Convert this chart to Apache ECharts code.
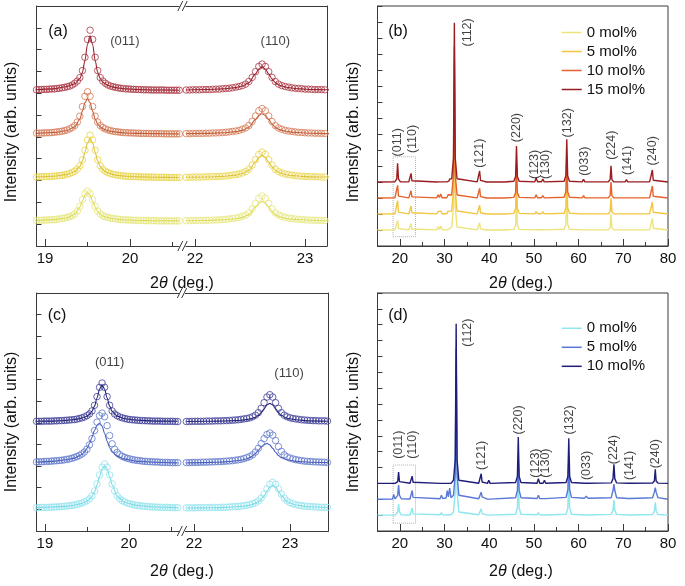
<!DOCTYPE html>
<html><head><meta charset="utf-8">
<script src="https://cdn.jsdelivr.net/npm/echarts@6/dist/echarts.min.js"></script>
<style>html,body{margin:0;padding:0;background:#fff}#c{width:685px;height:586px}</style>
</head><body><div id="c"></div>
<script>
// ---------- data: 2theta grids ----------
const xLeft = [18.90,18.93,18.96,18.99,19.02,19.05,19.08,19.11,19.14,19.17,19.20,19.23,19.26,19.29,19.32,19.35,19.38,19.41,19.44,19.47,19.50,19.53,19.56,19.59,19.62,19.65,19.68,19.71,19.74,19.77,19.80,19.83,19.86,19.89,19.92,19.95,19.98,20.01,20.04,20.07,20.10,20.13,20.16,20.19,20.22,20.25,20.28,20.31,20.34,20.37,20.40,20.43,20.46,20.49,20.52,20.55,20.58];
const xRight = [21.92,21.95,21.98,22.01,22.04,22.07,22.10,22.13,22.16,22.19,22.22,22.25,22.28,22.31,22.34,22.37,22.40,22.43,22.46,22.49,22.52,22.55,22.58,22.61,22.64,22.67,22.70,22.73,22.76,22.79,22.82,22.85,22.88,22.91,22.94,22.97,23.00,23.03,23.06,23.09,23.12,23.15,23.18,23.21,23.24,23.27,23.30,23.33,23.36,23.39];
// ---------- panel (a): measured points (stacked intensities) ----------
const a15L = [7.16,7.17,7.17,7.18,7.18,7.19,7.20,7.20,7.22,7.23,7.25,7.27,7.30,7.33,7.38,7.46,7.56,7.72,8.04,8.65,9.47,9.89,9.47,8.65,8.04,7.72,7.56,7.46,7.38,7.33,7.30,7.27,7.25,7.23,7.22,7.20,7.20,7.19,7.18,7.18,7.17,7.17,7.16,7.16,7.16,7.15,7.15,7.15,7.15,7.15,7.15,7.14,7.14,7.14,7.14,7.14,7.14];
const a10L = [5.17,5.17,5.18,5.18,5.19,5.19,5.20,5.21,5.23,5.24,5.26,5.29,5.32,5.37,5.43,5.52,5.68,5.95,6.39,6.86,7.07,6.86,6.39,5.95,5.68,5.52,5.43,5.37,5.32,5.29,5.26,5.24,5.23,5.21,5.20,5.19,5.19,5.18,5.18,5.17,5.17,5.16,5.16,5.16,5.16,5.15,5.15,5.15,5.15,5.15,5.14,5.14,5.14,5.14,5.14,5.14,5.14];
const a5L = [3.16,3.17,3.17,3.18,3.18,3.19,3.19,3.20,3.21,3.23,3.24,3.26,3.29,3.32,3.37,3.43,3.52,3.68,3.95,4.39,4.86,5.08,4.86,4.39,3.95,3.68,3.52,3.43,3.37,3.32,3.29,3.26,3.24,3.23,3.21,3.20,3.19,3.19,3.18,3.18,3.17,3.17,3.16,3.16,3.16,3.16,3.15,3.15,3.15,3.15,3.15,3.14,3.14,3.14,3.14,3.14,3.14];
const a0L = [1.17,1.18,1.18,1.19,1.19,1.20,1.20,1.21,1.23,1.24,1.26,1.28,1.31,1.34,1.39,1.47,1.60,1.82,2.12,2.40,2.52,2.40,2.12,1.82,1.60,1.47,1.39,1.34,1.31,1.28,1.26,1.24,1.23,1.21,1.20,1.20,1.19,1.19,1.18,1.18,1.17,1.17,1.17,1.16,1.16,1.16,1.16,1.16,1.15,1.15,1.15,1.15,1.15,1.15,1.15,1.15,1.15];
const a15R = [7.15,7.15,7.16,7.16,7.16,7.17,7.17,7.17,7.18,7.19,7.19,7.21,7.22,7.23,7.25,7.28,7.31,7.35,7.42,7.54,7.73,7.99,8.23,8.34,8.23,7.99,7.73,7.54,7.42,7.35,7.31,7.28,7.25,7.23,7.22,7.21,7.19,7.19,7.18,7.17,7.17,7.17,7.16,7.16,7.16,7.15,7.15,7.15,7.15,7.15];
const a10R = [5.15,5.15,5.16,5.16,5.16,5.16,5.17,5.17,5.18,5.18,5.19,5.20,5.21,5.23,5.25,5.27,5.30,5.35,5.41,5.52,5.71,5.96,6.20,6.30,6.20,5.96,5.71,5.52,5.41,5.35,5.30,5.27,5.25,5.23,5.21,5.20,5.19,5.18,5.18,5.17,5.17,5.16,5.16,5.16,5.16,5.15,5.15,5.15,5.15,5.15];
const a5R = [3.15,3.15,3.16,3.16,3.16,3.16,3.17,3.17,3.18,3.18,3.19,3.20,3.21,3.23,3.25,3.27,3.30,3.35,3.41,3.52,3.71,3.96,4.20,4.30,4.20,3.96,3.71,3.52,3.41,3.35,3.30,3.27,3.25,3.23,3.21,3.20,3.19,3.18,3.18,3.17,3.17,3.16,3.16,3.16,3.16,3.15,3.15,3.15,3.15,3.15];
const a0R = [1.16,1.16,1.17,1.17,1.17,1.17,1.18,1.18,1.19,1.19,1.20,1.21,1.22,1.24,1.26,1.28,1.31,1.36,1.42,1.52,1.70,1.95,2.19,2.29,2.19,1.95,1.70,1.52,1.42,1.36,1.31,1.28,1.26,1.24,1.22,1.21,1.20,1.19,1.19,1.18,1.18,1.17,1.17,1.17,1.17,1.16,1.16,1.16,1.16,1.16];
// ---------- panel (c): measured points ----------
const c10L = [5.07,5.07,5.07,5.08,5.08,5.08,5.08,5.09,5.09,5.10,5.10,5.11,5.12,5.13,5.14,5.15,5.17,5.20,5.23,5.27,5.33,5.41,5.55,5.81,6.21,6.64,6.84,6.64,6.21,5.81,5.55,5.41,5.33,5.27,5.23,5.20,5.17,5.15,5.14,5.13,5.12,5.11,5.10,5.10,5.09,5.09,5.08,5.08,5.08,5.08,5.07,5.07,5.07,5.07,5.07,5.06,5.06];
const c5L = [3.19,3.20,3.20,3.21,3.22,3.22,3.23,3.24,3.25,3.26,3.27,3.29,3.31,3.33,3.36,3.40,3.44,3.49,3.56,3.65,3.78,3.98,4.27,4.64,5.03,5.33,5.45,5.28,4.87,4.41,4.03,3.78,3.63,3.53,3.45,3.40,3.36,3.33,3.30,3.28,3.26,3.25,3.23,3.22,3.21,3.20,3.20,3.19,3.19,3.18,3.17,3.17,3.17,3.16,3.16,3.16,3.16];
const c0L = [1.08,1.08,1.09,1.09,1.09,1.10,1.10,1.11,1.11,1.12,1.13,1.14,1.15,1.17,1.18,1.20,1.23,1.26,1.29,1.34,1.40,1.49,1.63,1.85,2.18,2.59,2.95,3.10,2.95,2.59,2.18,1.85,1.63,1.49,1.40,1.34,1.29,1.26,1.23,1.20,1.18,1.17,1.15,1.14,1.13,1.12,1.11,1.11,1.10,1.10,1.09,1.09,1.09,1.08,1.08,1.08,1.08];
const c10R = [5.06,5.06,5.07,5.07,5.07,5.07,5.07,5.08,5.08,5.08,5.09,5.09,5.09,5.10,5.10,5.11,5.12,5.13,5.14,5.16,5.18,5.20,5.23,5.28,5.35,5.47,5.67,5.93,6.19,6.30,6.19,5.93,5.67,5.47,5.35,5.28,5.23,5.20,5.18,5.16,5.14,5.13,5.12,5.11,5.10,5.10,5.09,5.09,5.09,5.08];
const c5R = [3.16,3.16,3.17,3.17,3.17,3.18,3.18,3.18,3.19,3.19,3.20,3.20,3.21,3.22,3.23,3.24,3.25,3.27,3.29,3.31,3.35,3.39,3.44,3.52,3.65,3.82,4.04,4.27,4.46,4.53,4.43,4.18,3.90,3.68,3.52,3.43,3.37,3.33,3.30,3.27,3.25,3.23,3.22,3.21,3.20,3.19,3.19,3.18,3.18,3.17];
const c0R = [1.07,1.07,1.07,1.07,1.08,1.08,1.08,1.08,1.08,1.09,1.09,1.09,1.09,1.10,1.10,1.11,1.12,1.13,1.14,1.15,1.17,1.19,1.22,1.26,1.31,1.39,1.52,1.71,1.95,2.16,2.25,2.16,1.95,1.71,1.52,1.39,1.31,1.26,1.22,1.19,1.17,1.15,1.14,1.13,1.12,1.11,1.10,1.10,1.09,1.09];
// ---------- fitted curves ----------
const fitXLeft = [18.90,19.10,19.25,19.35,19.41,19.44,19.47,19.50,19.53,19.56,19.59,19.62,19.65,19.68,19.71,19.74,19.77,19.80,19.86,19.95,20.10,20.30,20.58];
const fitXRight = [21.92,22.10,22.25,22.37,22.43,22.49,22.55,22.58,22.61,22.64,22.67,22.70,22.73,22.76,22.79,22.82,22.85,22.88,22.91,22.97,23.06,23.20,23.39];
const a15LFit = [7.16,7.20,7.30,7.43,7.67,7.95,8.51,9.25,9.63,9.25,8.51,7.95,7.67,7.52,7.43,7.36,7.32,7.28,7.24,7.20,7.17,7.15,7.14];
const a10LFit = [5.16,5.20,5.28,5.46,5.82,6.18,6.57,6.75,6.57,6.18,5.82,5.59,5.46,5.38,5.33,5.29,5.26,5.24,5.21,5.18,5.16,5.15,5.14];
const a5LFit = [3.16,3.20,3.27,3.41,3.64,3.90,4.30,4.73,4.93,4.73,4.30,3.90,3.64,3.49,3.41,3.35,3.31,3.28,3.23,3.20,3.17,3.15,3.14];
const a0LFit = [1.17,1.21,1.28,1.45,1.78,2.06,2.33,2.44,2.33,2.06,1.78,1.58,1.45,1.38,1.33,1.30,1.27,1.25,1.22,1.19,1.17,1.16,1.15];
const a15RFit = [7.15,7.17,7.20,7.26,7.33,7.49,7.89,8.11,8.21,8.11,7.89,7.66,7.49,7.39,7.33,7.29,7.26,7.24,7.22,7.20,7.17,7.16,7.15];
const a10RFit = [5.15,5.16,5.19,5.24,5.30,5.44,5.79,5.98,6.06,5.98,5.79,5.59,5.44,5.35,5.30,5.27,5.24,5.22,5.21,5.19,5.17,5.15,5.14];
const a5RFit = [3.15,3.16,3.19,3.25,3.32,3.47,3.85,4.06,4.15,4.06,3.85,3.63,3.47,3.38,3.32,3.28,3.25,3.23,3.22,3.19,3.17,3.16,3.15];
const a0RFit = [1.16,1.17,1.20,1.25,1.31,1.44,1.78,1.96,2.04,1.96,1.78,1.58,1.44,1.36,1.31,1.27,1.25,1.23,1.22,1.20,1.18,1.16,1.15];
const c10LFit = [5.07,5.08,5.11,5.15,5.19,5.22,5.26,5.31,5.39,5.53,5.77,6.15,6.56,6.75,6.56,6.15,5.77,5.53,5.31,5.19,5.12,5.08,5.07];
const c5LFit = [3.18,3.22,3.29,3.37,3.47,3.54,3.65,3.81,4.04,4.33,4.64,4.89,4.98,4.85,4.52,4.15,3.85,3.65,3.45,3.32,3.22,3.18,3.15];
const c0LFit = [1.08,1.11,1.14,1.19,1.25,1.28,1.32,1.38,1.47,1.60,1.81,2.13,2.52,2.86,3.00,2.86,2.52,2.13,1.60,1.32,1.18,1.11,1.08];
const c10RFit = [5.06,5.07,5.08,5.09,5.10,5.12,5.15,5.18,5.21,5.25,5.34,5.47,5.65,5.83,5.90,5.83,5.65,5.47,5.34,5.21,5.14,5.09,5.07];
const c5RFit = [3.15,3.16,3.18,3.21,3.24,3.27,3.34,3.39,3.47,3.58,3.73,3.88,4.00,4.05,3.98,3.82,3.64,3.49,3.39,3.29,3.22,3.18,3.16];
const c0RFit = [1.06,1.07,1.08,1.10,1.12,1.14,1.17,1.20,1.23,1.28,1.35,1.46,1.63,1.84,2.03,2.10,2.03,1.84,1.63,1.35,1.20,1.12,1.08];
// ---------- panel (b): full patterns ----------
const bX = [15,18.9,19.3,19.5,19.7,20.1,22.0,22.3,22.5,22.7,23.0,28.25,28.55,28.85,29.15,29.45,30.5,30.8,30.97,31.15,31.6,32.0,32.2,32.4,32.8,37.3,37.65,37.85,38.05,38.4,39.4,39.7,40.0,42.75,43.05,43.35,45.5,45.9,46.1,46.3,46.7,50.2,50.5,50.8,51.7,52.0,52.3,56.75,57.15,57.35,57.55,57.95,60.8,61.1,61.4,66.65,67.05,67.25,67.45,67.85,70.4,70.7,71.0,75.9,76.3,76.5,76.7,77.1,80];
const b15 = [4,4.02,4.18,5.17,4.18,4.02,4.01,4.08,4.54,4.08,4.01,4,4.05,4.01,4.07,4.01,4.01,4.12,4.06,4.19,4.2,5.49,13.96,5.49,4.2,4.01,4.1,4.69,4.1,4.01,4,4.08,4,4,4.1,4,4.05,4.34,6.25,4.34,4.05,4.01,4.27,4.02,4.02,4.19,4.01,4.05,4.4,6.67,4.4,4.05,4.01,4.17,4.01,4.02,4.15,5.02,4.15,4.02,4.01,4.15,4.01,4.02,4.11,4.75,4.11,4.02,4];
const b10 = [3,3.02,3.12,3.79,3.12,3.02,3.01,3.07,3.45,3.07,3.01,3.01,3.2,3.03,3.25,3.02,3.02,3.2,3.1,3.3,3.19,4.43,12.5,4.43,3.19,3.01,3.09,3.6,3.09,3.01,3,3.12,3,3,3.03,3,3.04,3.33,5.2,3.33,3.04,3.01,3.2,3.02,3.02,3.15,3.01,3.05,3.39,5.6,3.39,3.05,3.01,3.15,3.01,3.02,3.15,4.0,3.15,3.02,3.01,3.1,3.01,3.02,3.11,3.75,3.11,3.02,3];
const b5 = [2,2.02,2.12,2.83,2.12,2.02,2.01,2.08,2.5,2.08,2.01,2.01,2.15,2.03,2.2,2.02,2.02,2.18,2.08,2.25,2.19,3.43,11.5,3.43,2.19,2.01,2.08,2.55,2.08,2.01,2,2.1,2,2,2.02,2,2.04,2.32,4.1,2.32,2.04,2.01,2.15,2.02,2.02,2.15,2.01,2.05,2.38,4.5,2.38,2.05,2.01,2.12,2.01,2.02,2.15,3.0,2.15,2.02,2.01,2.1,2.01,2.02,2.11,2.75,2.11,2.02,2];
const b0 = [1,1.01,1.09,1.6,1.09,1.01,1.01,1.06,1.4,1.06,1.01,1.01,1.2,1.03,1.25,1.02,1.01,1.12,1.06,1.17,1.19,2.43,10.5,2.43,1.19,1.01,1.07,1.45,1.07,1.01,1,1.1,1,1,1.02,1,1.04,1.3,3.0,1.3,1.04,1.01,1.12,1.02,1.02,1.12,1.01,1.05,1.36,3.4,1.36,1.05,1.01,1.1,1.01,1.02,1.15,2.0,1.15,1.02,1.01,1.08,1.01,1.02,1.11,1.72,1.11,1.02,1];
// ---------- panel (d): full patterns ----------
const dX = [15,18.35,18.64,18.93,19.12,19.52,19.72,19.92,20.32,22.26,22.56,22.76,22.96,23.26,29.0,29.3,29.6,30.35,30.6,30.85,31.15,31.45,32.0,32.4,32.6,32.8,33.2,37.65,38.0,38.2,38.4,38.75,39.6,39.9,40.2,45.9,46.3,46.5,46.7,47.1,50.7,51.0,51.3,52.05,52.35,52.65,57.2,57.6,57.8,58.0,58.4,61.3,61.7,62.1,67.3,67.7,67.9,68.1,68.5,71.05,71.35,71.65,76.55,76.95,77.15,77.35,77.75,80];
const d10 = [3,3,3,3,3.01,3.11,3.72,3.11,3.01,3.01,3.07,3.46,3.07,3.01,3,3.03,3,3,3.02,3,3.02,3,3.2,4.51,13.06,4.51,3.2,3.01,3.09,3.61,3.09,3.01,3,3.19,3,3.06,3.44,5.93,3.44,3.06,3.01,3.3,3.01,3.01,3.19,3.01,3.06,3.43,5.85,3.43,3.06,3.01,3.13,3.01,3.03,3.3,4.2,3.3,3.03,3.01,3.1,3.01,3.02,3.15,3.89,3.15,3.02,3];
const d5 = [2,2.01,2.3,2.02,2.03,2.25,2.9,2.25,2.03,2.02,2.12,2.55,2.12,2.02,2.03,2.25,2.05,2.08,2.55,2.15,2.7,2.1,2.25,3.6,11.5,3.6,2.25,2.03,2.15,2.45,2.15,2.03,2.01,2.12,2.01,2.1,2.55,4.5,2.55,2.1,2.05,2.25,2.05,2.04,2.15,2.04,2.12,2.6,4.5,2.6,2.12,2.06,2.2,2.06,2.1,2.55,2.95,2.55,2.1,2.05,2.15,2.05,2.1,2.45,2.74,2.45,2.1,2];
const d0 = [1,1,1.1,1.01,1.02,1.2,1.7,1.2,1.02,1.01,1.08,1.45,1.08,1.01,1.02,1.15,1.02,1.01,1.1,1.03,1.15,1.02,1.2,2.5,10.5,2.5,1.2,1.02,1.1,1.4,1.1,1.02,1,1.1,1,1.06,1.45,3.5,1.45,1.06,1.02,1.15,1.02,1.01,1.1,1.01,1.06,1.45,3.5,1.45,1.06,1.01,1.1,1.01,1.05,1.3,1.95,1.3,1.05,1.01,1.08,1.01,1.04,1.25,1.8,1.25,1.04,1];
// ---------- labels and ticks ----------
const zoomLabels = ['(011)','(110)'];
const aLabelX = [19.94, 22.73], aLabelY = [9.37, 9.37];
const cLabelX = [19.77, 22.99], cLabelY = [7.78, 7.29];
const hkl = ['(011)','(110)','(112)','(121)','(220)','(123)','(130)','(132)','(033)','(224)','(141)','(240)'];
const bLabelX = [19.5, 22.75, 35.2, 37.9, 46.1, 50.2, 52.5, 57.5, 61.4, 67.3, 70.9, 76.5];
const bLabelY = [6.48, 6.69, 13.35, 5.8, 7.4, 5.1, 5.1, 7.7, 5.3, 6.3, 5.35, 5.95];
const dLabelX = [19.6, 22.9, 35.2, 38.2, 46.6, 50.4, 52.7, 57.9, 61.8, 67.8, 71.35, 77.2];
const dLabelY = [5.44, 5.44, 12.5, 4.77, 7.0, 4.28, 4.28, 7.0, 4.13, 5.13, 4.13, 4.87];
const bNames = ['0 mol%','5 mol%','10 mol%','15 mol%'];
const dNames = ['0 mol%','5 mol%','10 mol%'];
const ticksLeftMajor = [19, 20], ticksLeftMinor = [19.5, 20.5];
const ticksRightMajor = [22, 23], ticksRightMinor = [22.5];
const ticksWideMajor = [20, 30, 40, 50, 60, 70, 80], ticksWideMinor = [25, 35, 45, 55, 65, 75];

// ---------- build ----------
const FONT = '"Liberation Sans", Arial, Helvetica, sans-serif';
const AX = '#3a3a3a', TXT = '#111';
const zip = (xs, ys) => xs.map((x, i) => [x, ys[i]]);
const grids = [], xAxes = [], yAxes = [], series = [];

function addPanel(box, xmin, xmax, ymax, major, minor, opt) {
  const gi = grids.length;
  grids.push({left: box[0], top: box[1], width: box[2], height: box[3], containLabel: false, outerBoundsMode: 'none',
    show: !!opt.border, borderColor: AX, borderWidth: 1, backgroundColor: 'transparent'});
  const xi = xAxes.length;
  xAxes.push({gridIndex: gi, type: 'value', min: xmin, max: xmax, position: 'bottom',
    axisLine: {show: true, lineStyle: {color: AX, width: 1}},
    axisTick: {show: true, inside: true, length: 7, customValues: major, lineStyle: {color: AX, width: 1}},
    axisLabel: {show: true, customValues: major, fontSize: 15, fontFamily: FONT, color: TXT, margin: 5},
    splitLine: {show: false}});
  xAxes.push({gridIndex: gi, type: 'value', min: xmin, max: xmax, position: 'bottom',
    axisLine: {show: false}, axisTick: {show: true, inside: true, length: 4, customValues: minor, lineStyle: {color: AX, width: 1}},
    axisLabel: {show: false}, splitLine: {show: false}});
  if (opt.top) xAxes.push({gridIndex: gi, type: 'value', min: xmin, max: xmax, position: 'top',
    axisLine: {show: true, lineStyle: {color: AX, width: 1}}, axisTick: {show: false}, axisLabel: {show: false}, splitLine: {show: false}});
  const yi = yAxes.length;
  yAxes.push({gridIndex: gi, type: 'value', min: 0, max: ymax, interval: 1, position: opt.yRight ? 'right' : 'left',
    axisLine: {show: true, lineStyle: {color: AX, width: 1}},
    axisTick: {show: !opt.yRight, inside: true, length: 5, lineStyle: {color: AX, width: 1}},
    axisLabel: {show: false}, splitLine: {show: false}});
  return {xi, yi};
}
const pAL = addPanel([36.5, 6, 144.5, 240], 18.9, 20.6, 11, ticksLeftMajor, ticksLeftMinor, {top: true});
const pAR = addPanel([184, 6, 143, 240], 21.9, 23.2, 11, ticksRightMajor, ticksRightMinor, {top: true, yRight: true});
const pB  = addPanel([377.5, 6, 290.5, 240], 15, 80, 15, ticksWideMajor, ticksWideMinor, {border: true});
const pCL = addPanel([36.5, 293, 142.9, 238], 18.9, 20.6, 11, ticksLeftMajor, ticksLeftMinor, {top: true});
const pCR = addPanel([184.4, 293, 144, 238], 21.9, 23.4, 11, ticksRightMajor, ticksRightMinor, {top: true, yRight: true});
const pD  = addPanel([377.5, 293, 290.5, 238], 15, 80, 15, ticksWideMajor, ticksWideMinor, {border: true});

function circles(p, xs, ys, col) {
  series.push({type: 'scatter', xAxisIndex: p.xi, yAxisIndex: p.yi, data: zip(xs, ys), symbol: 'circle', symbolSize: 6.5,
    itemStyle: {color: 'rgba(255,255,255,0)', borderColor: col, borderWidth: 1}, silent: true, clip: true, z: 2});
}
function fit(p, xs, ys, col) {
  series.push({type: 'line', xAxisIndex: p.xi, yAxisIndex: p.yi, data: zip(xs, ys), smooth: 0.3, smoothMonotone: 'x',
    symbol: 'none', lineStyle: {color: col, width: 1.1}, itemStyle: {color: col}, silent: true, clip: true, z: 3});
}
function pattern(p, name, xs, ys, col, extra) {
  series.push(Object.assign({type: 'line', name: name, xAxisIndex: p.xi, yAxisIndex: p.yi, data: zip(xs, ys),
    symbol: 'none', lineStyle: {color: col, width: 1.4}, itemStyle: {color: col}, color: col, silent: true, clip: true, z: 3}, extra || {}));
}
function labels(p, names, xs, ys, rot, size) {
  series.push({type: 'scatter', xAxisIndex: p.xi, yAxisIndex: p.yi, symbolSize: 1, itemStyle: {color: 'rgba(0,0,0,0)'},
    data: names.map((n, i) => ({value: [xs[i], ys[i]], name: n})), silent: true, z: 10,
    label: {show: true, position: 'inside', formatter: '{b}', rotate: rot, fontSize: size, fontFamily: FONT, color: TXT,
      align: 'center', verticalAlign: 'middle'}});
}

// panel (a)
const aCol = {c0: '#e6e67c', l0: '#dcdc5c', c5: '#ead548', l5: '#dcc33a', c10: '#d67a56', l10: '#c05e3a', c15: '#ac3644', l15: '#96222e'};
circles(pAL, xLeft, a0L, aCol.c0); fit(pAL, fitXLeft, a0LFit, aCol.l0);
circles(pAL, xLeft, a5L, aCol.c5); fit(pAL, fitXLeft, a5LFit, aCol.l5);
circles(pAL, xLeft, a10L, aCol.c10); fit(pAL, fitXLeft, a10LFit, aCol.l10);
circles(pAL, xLeft, a15L, aCol.c15); fit(pAL, fitXLeft, a15LFit, aCol.l15);
circles(pAR, xRight, a0R, aCol.c0); fit(pAR, fitXRight, a0RFit, aCol.l0);
circles(pAR, xRight, a5R, aCol.c5); fit(pAR, fitXRight, a5RFit, aCol.l5);
circles(pAR, xRight, a10R, aCol.c10); fit(pAR, fitXRight, a10RFit, aCol.l10);
circles(pAR, xRight, a15R, aCol.c15); fit(pAR, fitXRight, a15RFit, aCol.l15);
labels(pAL, [zoomLabels[0]], [aLabelX[0]], [aLabelY[0]], 0, 13);
labels(pAR, [zoomLabels[1]], [aLabelX[1]], [aLabelY[1]], 0, 13);
// panel (c)
const cCol = {c0: '#92e4ee', l0: '#80dae6', c5: '#6279cc', l5: '#4a60ba', c10: '#40409a', l10: '#262678'};
circles(pCL, xLeft, c0L, cCol.c0); fit(pCL, fitXLeft, c0LFit, cCol.l0);
circles(pCL, xLeft, c5L, cCol.c5); fit(pCL, fitXLeft, c5LFit, cCol.l5);
circles(pCL, xLeft, c10L, cCol.c10); fit(pCL, fitXLeft, c10LFit, cCol.l10);
circles(pCR, xRight, c0R, cCol.c0); fit(pCR, fitXRight, c0RFit, cCol.l0);
circles(pCR, xRight, c5R, cCol.c5); fit(pCR, fitXRight, c5RFit, cCol.l5);
circles(pCR, xRight, c10R, cCol.c10); fit(pCR, fitXRight, c10RFit, cCol.l10);
labels(pCL, [zoomLabels[0]], [cLabelX[0]], [cLabelY[0]], 0, 13);
labels(pCR, [zoomLabels[1]], [cLabelX[1]], [cLabelY[1]], 0, 13);
// panel (b)
const bCol = ['#ece47a', '#f2c640', '#e5622c', '#9a1c20'];
const boxStyle = {silent: true, itemStyle: {color: 'rgba(0,0,0,0)', borderColor: '#b0b0b0', borderWidth: 1, borderType: 'dotted'}};
pattern(pB, bNames[0], bX, b0, bCol[0], {markArea: Object.assign({data: [[{xAxis: 18.5, yAxis: 0.58}, {xAxis: 23.5, yAxis: 5.58}]]}, boxStyle)});
pattern(pB, bNames[1], bX, b5, bCol[1]);
pattern(pB, bNames[2], bX, b10, bCol[2]);
pattern(pB, bNames[3], bX, b15, bCol[3]);
labels(pB, hkl, bLabelX, bLabelY, 90, 12.5);
// panel (d)
const dCol = ['#8ee6ee', '#5a78d6', '#1e1e7a'];
pattern(pD, '(d) ' + dNames[0], dX, d0, dCol[0], {markArea: Object.assign({data: [[{xAxis: 18.5, yAxis: 0.49}, {xAxis: 23.5, yAxis: 4.16}]]}, boxStyle)});
pattern(pD, '(d) ' + dNames[1], dX, d5, dCol[1]);
pattern(pD, '(d) ' + dNames[2], dX, d10, dCol[2]);
labels(pD, hkl, dLabelX, dLabelY, 90, 12.5);

// ---------- decoration (text & axis breaks) ----------
const graphic = [];
function txt(x, y, text, size, rot, rich) {
  graphic.push({type: 'text', x: x, y: y, rotation: rot || 0, silent: true, z: 100,
    style: {text: text, fontSize: size, fontFamily: FONT, fill: TXT, align: 'center', verticalAlign: 'middle',
      textAlign: 'center', textVerticalAlign: 'middle', rich: rich}});
}
const thetaRich = {i: {fontStyle: 'italic', fontSize: 16, fontFamily: FONT, fill: TXT, color: TXT}, n: {fontSize: 16, fontFamily: FONT, fill: TXT, color: TXT}};
[[182, 284], [521, 284], [182, 572], [521, 572]].forEach(p => txt(p[0], p[1], '{n|2}{i|θ}{n| (deg.)}', 16, 0, thetaRich));
[[12, 132], [354, 132], [12, 422], [354, 422]].forEach(p => txt(p[0], p[1], 'Intensity (arb. units)', 16, Math.PI / 2));
[[58, 32, '(a)'], [398, 32, '(b)'], [57, 316, '(c)'], [398, 316, '(d)']].forEach(p => txt(p[0], p[1], p[2], 16, 0));
function brk(cx, cy) {
  graphic.push({type: 'rect', shape: {x: cx - 3, y: cy - 2, width: 6, height: 4}, style: {fill: '#fff'}, silent: true, z: 99});
  [-2.2, 2.2].forEach(dx => graphic.push({type: 'line', silent: true, z: 100,
    shape: {x1: cx + dx - 2.5, y1: cy + 5, x2: cx + dx + 2.5, y2: cy - 5}, style: {stroke: AX, lineWidth: 1}}));
}
brk(182.5, 246); brk(182.5, 6); brk(182, 531); brk(182, 293);

const legendBase = {orient: 'vertical', icon: 'rect', itemWidth: 20, itemHeight: 1.5, itemGap: 3, padding: 0,
  selectedMode: false, textStyle: {fontSize: 15, fontFamily: FONT, color: TXT, lineHeight: 16}};
const option = {
  animation: false, backgroundColor: '#fff',
  grid: grids, xAxis: xAxes, yAxis: yAxes, series: series, graphic: graphic,
  legend: [
    Object.assign({}, legendBase, {left: 561.7, top: 24.5, data: bNames}),
    Object.assign({}, legendBase, {left: 561.7, top: 320.3, data: dNames.map(n => '(d) ' + n), formatter: n => n.replace('(d) ', '')})
  ]
};
const chart = echarts.init(document.getElementById('c'), null, {renderer: 'canvas'});
chart.setOption(option);
</script></body></html>
